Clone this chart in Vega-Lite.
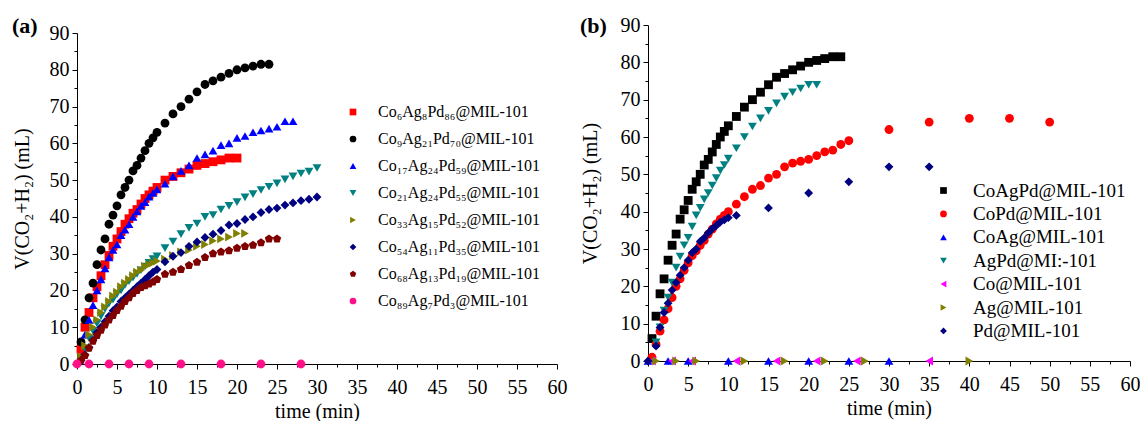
{
  "$schema": "https://vega.github.io/schema/vega-lite/v6.json",
  "background": "white",
  "padding": {"left": 12, "top": 15, "right": 0, "bottom": 0},
  "spacing": 13,
  "resolve": {"scale": {"color": "independent", "shape": "independent"}, "legend": {"color": "independent", "shape": "independent"}},
  "config": {
    "font": "Liberation Serif",
    "view": {"stroke": null},
    "axis": {"grid": false, "domainColor": "black", "tickColor": "black", "labelColor": "black", "titleColor": "black", "labelFontSize": 20, "titleFontSize": 20, "titleFontWeight": "normal", "labelFontWeight": "normal", "tickSize": 5, "domainWidth": 1, "tickWidth": 1, "labelFont": "Liberation Serif", "titleFont": "Liberation Serif", "labelFlush": false},
    "legend": {"labelFont": "Liberation Serif", "labelColor": "black", "labelFontSize": 16, "labelLimit": 400, "padding": 0, "symbolStrokeWidth": 0, "title": null},
    "title": {"font": "Liberation Serif", "fontSize": 22, "fontWeight": "bold", "color": "black"}
  },
  "datasets": {
    "a": [
      {"s":"Co₆Ag₈Pd₈₆@MIL-101","t":0.5,"v":4},{"s":"Co₆Ag₈Pd₈₆@MIL-101","t":1,"v":10},{"s":"Co₆Ag₈Pd₈₆@MIL-101","t":1.5,"v":14},{"s":"Co₆Ag₈Pd₈₆@MIL-101","t":2,"v":18},{"s":"Co₆Ag₈Pd₈₆@MIL-101","t":2.5,"v":21},{"s":"Co₆Ag₈Pd₈₆@MIL-101","t":3,"v":24},{"s":"Co₆Ag₈Pd₈₆@MIL-101","t":3.5,"v":27},{"s":"Co₆Ag₈Pd₈₆@MIL-101","t":4,"v":29.5},{"s":"Co₆Ag₈Pd₈₆@MIL-101","t":4.5,"v":32},{"s":"Co₆Ag₈Pd₈₆@MIL-101","t":5,"v":34},{"s":"Co₆Ag₈Pd₈₆@MIL-101","t":5.5,"v":36},{"s":"Co₆Ag₈Pd₈₆@MIL-101","t":6,"v":38},{"s":"Co₆Ag₈Pd₈₆@MIL-101","t":6.5,"v":39.5},{"s":"Co₆Ag₈Pd₈₆@MIL-101","t":7,"v":41},{"s":"Co₆Ag₈Pd₈₆@MIL-101","t":7.5,"v":42},{"s":"Co₆Ag₈Pd₈₆@MIL-101","t":8,"v":43.5},{"s":"Co₆Ag₈Pd₈₆@MIL-101","t":8.5,"v":45},{"s":"Co₆Ag₈Pd₈₆@MIL-101","t":9,"v":46},{"s":"Co₆Ag₈Pd₈₆@MIL-101","t":9.5,"v":47},{"s":"Co₆Ag₈Pd₈₆@MIL-101","t":10,"v":48},{"s":"Co₆Ag₈Pd₈₆@MIL-101","t":11,"v":50},{"s":"Co₆Ag₈Pd₈₆@MIL-101","t":12,"v":51},{"s":"Co₆Ag₈Pd₈₆@MIL-101","t":13,"v":52},{"s":"Co₆Ag₈Pd₈₆@MIL-101","t":14,"v":53},{"s":"Co₆Ag₈Pd₈₆@MIL-101","t":15,"v":54},{"s":"Co₆Ag₈Pd₈₆@MIL-101","t":16,"v":54.5},{"s":"Co₆Ag₈Pd₈₆@MIL-101","t":17,"v":55},{"s":"Co₆Ag₈Pd₈₆@MIL-101","t":18,"v":55.5},{"s":"Co₆Ag₈Pd₈₆@MIL-101","t":19,"v":56},{"s":"Co₆Ag₈Pd₈₆@MIL-101","t":20,"v":56},
      {"s":"Co₉Ag₂₁Pd₇₀@MIL-101","t":0.5,"v":6},{"s":"Co₉Ag₂₁Pd₇₀@MIL-101","t":1,"v":12},{"s":"Co₉Ag₂₁Pd₇₀@MIL-101","t":1.5,"v":18},{"s":"Co₉Ag₂₁Pd₇₀@MIL-101","t":2,"v":22},{"s":"Co₉Ag₂₁Pd₇₀@MIL-101","t":2.5,"v":27},{"s":"Co₉Ag₂₁Pd₇₀@MIL-101","t":3,"v":31},{"s":"Co₉Ag₂₁Pd₇₀@MIL-101","t":3.5,"v":34},{"s":"Co₉Ag₂₁Pd₇₀@MIL-101","t":4,"v":38},{"s":"Co₉Ag₂₁Pd₇₀@MIL-101","t":4.5,"v":40.5},{"s":"Co₉Ag₂₁Pd₇₀@MIL-101","t":5,"v":43},{"s":"Co₉Ag₂₁Pd₇₀@MIL-101","t":5.5,"v":46},{"s":"Co₉Ag₂₁Pd₇₀@MIL-101","t":6,"v":48},{"s":"Co₉Ag₂₁Pd₇₀@MIL-101","t":6.5,"v":50},{"s":"Co₉Ag₂₁Pd₇₀@MIL-101","t":7,"v":52.5},{"s":"Co₉Ag₂₁Pd₇₀@MIL-101","t":7.5,"v":54},{"s":"Co₉Ag₂₁Pd₇₀@MIL-101","t":8,"v":56},{"s":"Co₉Ag₂₁Pd₇₀@MIL-101","t":8.5,"v":58},{"s":"Co₉Ag₂₁Pd₇₀@MIL-101","t":9,"v":60},{"s":"Co₉Ag₂₁Pd₇₀@MIL-101","t":9.5,"v":61.5},{"s":"Co₉Ag₂₁Pd₇₀@MIL-101","t":10,"v":63},{"s":"Co₉Ag₂₁Pd₇₀@MIL-101","t":11,"v":65.5},{"s":"Co₉Ag₂₁Pd₇₀@MIL-101","t":12,"v":68},{"s":"Co₉Ag₂₁Pd₇₀@MIL-101","t":13,"v":70},{"s":"Co₉Ag₂₁Pd₇₀@MIL-101","t":14,"v":72},{"s":"Co₉Ag₂₁Pd₇₀@MIL-101","t":15,"v":74},{"s":"Co₉Ag₂₁Pd₇₀@MIL-101","t":16,"v":76},{"s":"Co₉Ag₂₁Pd₇₀@MIL-101","t":17,"v":77},{"s":"Co₉Ag₂₁Pd₇₀@MIL-101","t":18,"v":78},{"s":"Co₉Ag₂₁Pd₇₀@MIL-101","t":19,"v":79},{"s":"Co₉Ag₂₁Pd₇₀@MIL-101","t":20,"v":80},{"s":"Co₉Ag₂₁Pd₇₀@MIL-101","t":21,"v":80.5},{"s":"Co₉Ag₂₁Pd₇₀@MIL-101","t":22,"v":81},{"s":"Co₉Ag₂₁Pd₇₀@MIL-101","t":23,"v":81.5},{"s":"Co₉Ag₂₁Pd₇₀@MIL-101","t":24,"v":81.5},
      {"s":"Co₁₇Ag₂₄Pd₅₉@MIL-101","t":0.5,"v":2},{"s":"Co₁₇Ag₂₄Pd₅₉@MIL-101","t":1,"v":8},{"s":"Co₁₇Ag₂₄Pd₅₉@MIL-101","t":1.5,"v":12},{"s":"Co₁₇Ag₂₄Pd₅₉@MIL-101","t":2,"v":16},{"s":"Co₁₇Ag₂₄Pd₅₉@MIL-101","t":2.5,"v":20},{"s":"Co₁₇Ag₂₄Pd₅₉@MIL-101","t":3,"v":23},{"s":"Co₁₇Ag₂₄Pd₅₉@MIL-101","t":3.5,"v":26},{"s":"Co₁₇Ag₂₄Pd₅₉@MIL-101","t":4,"v":29},{"s":"Co₁₇Ag₂₄Pd₅₉@MIL-101","t":4.5,"v":31},{"s":"Co₁₇Ag₂₄Pd₅₉@MIL-101","t":5,"v":32.5},{"s":"Co₁₇Ag₂₄Pd₅₉@MIL-101","t":5.5,"v":35},{"s":"Co₁₇Ag₂₄Pd₅₉@MIL-101","t":6,"v":36.5},{"s":"Co₁₇Ag₂₄Pd₅₉@MIL-101","t":6.5,"v":38},{"s":"Co₁₇Ag₂₄Pd₅₉@MIL-101","t":7,"v":40},{"s":"Co₁₇Ag₂₄Pd₅₉@MIL-101","t":7.5,"v":41.5},{"s":"Co₁₇Ag₂₄Pd₅₉@MIL-101","t":8,"v":43},{"s":"Co₁₇Ag₂₄Pd₅₉@MIL-101","t":8.5,"v":44},{"s":"Co₁₇Ag₂₄Pd₅₉@MIL-101","t":9,"v":45.5},{"s":"Co₁₇Ag₂₄Pd₅₉@MIL-101","t":9.5,"v":46.5},{"s":"Co₁₇Ag₂₄Pd₅₉@MIL-101","t":10,"v":47.5},{"s":"Co₁₇Ag₂₄Pd₅₉@MIL-101","t":11,"v":49},{"s":"Co₁₇Ag₂₄Pd₅₉@MIL-101","t":12,"v":51},{"s":"Co₁₇Ag₂₄Pd₅₉@MIL-101","t":13,"v":52.5},{"s":"Co₁₇Ag₂₄Pd₅₉@MIL-101","t":14,"v":54},{"s":"Co₁₇Ag₂₄Pd₅₉@MIL-101","t":15,"v":56},{"s":"Co₁₇Ag₂₄Pd₅₉@MIL-101","t":16,"v":57},{"s":"Co₁₇Ag₂₄Pd₅₉@MIL-101","t":17,"v":58},{"s":"Co₁₇Ag₂₄Pd₅₉@MIL-101","t":18,"v":59.5},{"s":"Co₁₇Ag₂₄Pd₅₉@MIL-101","t":19,"v":60},{"s":"Co₁₇Ag₂₄Pd₅₉@MIL-101","t":20,"v":61.5},{"s":"Co₁₇Ag₂₄Pd₅₉@MIL-101","t":21,"v":62},{"s":"Co₁₇Ag₂₄Pd₅₉@MIL-101","t":22,"v":63},{"s":"Co₁₇Ag₂₄Pd₅₉@MIL-101","t":23,"v":63.5},{"s":"Co₁₇Ag₂₄Pd₅₉@MIL-101","t":24,"v":64},{"s":"Co₁₇Ag₂₄Pd₅₉@MIL-101","t":25,"v":64.5},{"s":"Co₁₇Ag₂₄Pd₅₉@MIL-101","t":26,"v":66},{"s":"Co₁₇Ag₂₄Pd₅₉@MIL-101","t":27,"v":66},
      {"s":"Co₂₁Ag₂₄Pd₅₅@MIL-101","t":0.5,"v":0.5},{"s":"Co₂₁Ag₂₄Pd₅₅@MIL-101","t":1,"v":4},{"s":"Co₂₁Ag₂₄Pd₅₅@MIL-101","t":1.5,"v":7},{"s":"Co₂₁Ag₂₄Pd₅₅@MIL-101","t":2,"v":9},{"s":"Co₂₁Ag₂₄Pd₅₅@MIL-101","t":2.5,"v":11},{"s":"Co₂₁Ag₂₄Pd₅₅@MIL-101","t":3,"v":13},{"s":"Co₂₁Ag₂₄Pd₅₅@MIL-101","t":3.5,"v":15},{"s":"Co₂₁Ag₂₄Pd₅₅@MIL-101","t":4,"v":16.5},{"s":"Co₂₁Ag₂₄Pd₅₅@MIL-101","t":4.5,"v":17.5},{"s":"Co₂₁Ag₂₄Pd₅₅@MIL-101","t":5,"v":19},{"s":"Co₂₁Ag₂₄Pd₅₅@MIL-101","t":5.5,"v":20},{"s":"Co₂₁Ag₂₄Pd₅₅@MIL-101","t":6,"v":21.5},{"s":"Co₂₁Ag₂₄Pd₅₅@MIL-101","t":6.5,"v":22.5},{"s":"Co₂₁Ag₂₄Pd₅₅@MIL-101","t":7,"v":23.5},{"s":"Co₂₁Ag₂₄Pd₅₅@MIL-101","t":7.5,"v":24.5},{"s":"Co₂₁Ag₂₄Pd₅₅@MIL-101","t":8,"v":25.5},{"s":"Co₂₁Ag₂₄Pd₅₅@MIL-101","t":8.5,"v":26.5},{"s":"Co₂₁Ag₂₄Pd₅₅@MIL-101","t":9,"v":27.5},{"s":"Co₂₁Ag₂₄Pd₅₅@MIL-101","t":9.5,"v":28.5},{"s":"Co₂₁Ag₂₄Pd₅₅@MIL-101","t":10,"v":29.3},{"s":"Co₂₁Ag₂₄Pd₅₅@MIL-101","t":11,"v":31.5},{"s":"Co₂₁Ag₂₄Pd₅₅@MIL-101","t":12,"v":33.3},{"s":"Co₂₁Ag₂₄Pd₅₅@MIL-101","t":13,"v":35.3},{"s":"Co₂₁Ag₂₄Pd₅₅@MIL-101","t":14,"v":37},{"s":"Co₂₁Ag₂₄Pd₅₅@MIL-101","t":15,"v":38.2},{"s":"Co₂₁Ag₂₄Pd₅₅@MIL-101","t":16,"v":40},{"s":"Co₂₁Ag₂₄Pd₅₅@MIL-101","t":17,"v":40.5},{"s":"Co₂₁Ag₂₄Pd₅₅@MIL-101","t":18,"v":42},{"s":"Co₂₁Ag₂₄Pd₅₅@MIL-101","t":19,"v":43},{"s":"Co₂₁Ag₂₄Pd₅₅@MIL-101","t":20,"v":44},{"s":"Co₂₁Ag₂₄Pd₅₅@MIL-101","t":21,"v":45.3},{"s":"Co₂₁Ag₂₄Pd₅₅@MIL-101","t":22,"v":46.2},{"s":"Co₂₁Ag₂₄Pd₅₅@MIL-101","t":23,"v":47.3},{"s":"Co₂₁Ag₂₄Pd₅₅@MIL-101","t":24,"v":48.2},{"s":"Co₂₁Ag₂₄Pd₅₅@MIL-101","t":25,"v":49.1},{"s":"Co₂₁Ag₂₄Pd₅₅@MIL-101","t":26,"v":50.2},{"s":"Co₂₁Ag₂₄Pd₅₅@MIL-101","t":27,"v":51},{"s":"Co₂₁Ag₂₄Pd₅₅@MIL-101","t":28,"v":51.8},{"s":"Co₂₁Ag₂₄Pd₅₅@MIL-101","t":29,"v":52.3},{"s":"Co₂₁Ag₂₄Pd₅₅@MIL-101","t":30,"v":53.3},
      {"s":"Co₃₃Ag₁₅Pd₅₂@MIL-101","t":0.5,"v":2},{"s":"Co₃₃Ag₁₅Pd₅₂@MIL-101","t":1,"v":5},{"s":"Co₃₃Ag₁₅Pd₅₂@MIL-101","t":1.5,"v":8},{"s":"Co₃₃Ag₁₅Pd₅₂@MIL-101","t":2,"v":10},{"s":"Co₃₃Ag₁₅Pd₅₂@MIL-101","t":2.5,"v":12},{"s":"Co₃₃Ag₁₅Pd₅₂@MIL-101","t":3,"v":14},{"s":"Co₃₃Ag₁₅Pd₅₂@MIL-101","t":3.5,"v":15.5},{"s":"Co₃₃Ag₁₅Pd₅₂@MIL-101","t":4,"v":17},{"s":"Co₃₃Ag₁₅Pd₅₂@MIL-101","t":4.5,"v":18.5},{"s":"Co₃₃Ag₁₅Pd₅₂@MIL-101","t":5,"v":19.5},{"s":"Co₃₃Ag₁₅Pd₅₂@MIL-101","t":5.5,"v":21},{"s":"Co₃₃Ag₁₅Pd₅₂@MIL-101","t":6,"v":22},{"s":"Co₃₃Ag₁₅Pd₅₂@MIL-101","t":6.5,"v":23},{"s":"Co₃₃Ag₁₅Pd₅₂@MIL-101","t":7,"v":24},{"s":"Co₃₃Ag₁₅Pd₅₂@MIL-101","t":7.5,"v":25},{"s":"Co₃₃Ag₁₅Pd₅₂@MIL-101","t":8,"v":25.5},{"s":"Co₃₃Ag₁₅Pd₅₂@MIL-101","t":8.5,"v":26.5},{"s":"Co₃₃Ag₁₅Pd₅₂@MIL-101","t":9,"v":27},{"s":"Co₃₃Ag₁₅Pd₅₂@MIL-101","t":9.5,"v":27.5},{"s":"Co₃₃Ag₁₅Pd₅₂@MIL-101","t":10,"v":28},{"s":"Co₃₃Ag₁₅Pd₅₂@MIL-101","t":11,"v":28.5},{"s":"Co₃₃Ag₁₅Pd₅₂@MIL-101","t":12,"v":29.5},{"s":"Co₃₃Ag₁₅Pd₅₂@MIL-101","t":13,"v":30.5},{"s":"Co₃₃Ag₁₅Pd₅₂@MIL-101","t":14,"v":31},{"s":"Co₃₃Ag₁₅Pd₅₂@MIL-101","t":15,"v":32},{"s":"Co₃₃Ag₁₅Pd₅₂@MIL-101","t":16,"v":32.5},{"s":"Co₃₃Ag₁₅Pd₅₂@MIL-101","t":17,"v":33.5},{"s":"Co₃₃Ag₁₅Pd₅₂@MIL-101","t":18,"v":34},{"s":"Co₃₃Ag₁₅Pd₅₂@MIL-101","t":19,"v":34.5},{"s":"Co₃₃Ag₁₅Pd₅₂@MIL-101","t":20,"v":35.5},{"s":"Co₃₃Ag₁₅Pd₅₂@MIL-101","t":21,"v":35.5},
      {"s":"Co₅₄Ag₁₁Pd₃₅@MIL-101","t":0.5,"v":1},{"s":"Co₅₄Ag₁₁Pd₃₅@MIL-101","t":1,"v":2.5},{"s":"Co₅₄Ag₁₁Pd₃₅@MIL-101","t":1.5,"v":4.5},{"s":"Co₅₄Ag₁₁Pd₃₅@MIL-101","t":2,"v":6.5},{"s":"Co₅₄Ag₁₁Pd₃₅@MIL-101","t":2.5,"v":8.5},{"s":"Co₅₄Ag₁₁Pd₃₅@MIL-101","t":3,"v":10},{"s":"Co₅₄Ag₁₁Pd₃₅@MIL-101","t":3.5,"v":11.5},{"s":"Co₅₄Ag₁₁Pd₃₅@MIL-101","t":4,"v":13},{"s":"Co₅₄Ag₁₁Pd₃₅@MIL-101","t":4.5,"v":14.5},{"s":"Co₅₄Ag₁₁Pd₃₅@MIL-101","t":5,"v":15.5},{"s":"Co₅₄Ag₁₁Pd₃₅@MIL-101","t":5.5,"v":17},{"s":"Co₅₄Ag₁₁Pd₃₅@MIL-101","t":6,"v":18},{"s":"Co₅₄Ag₁₁Pd₃₅@MIL-101","t":6.5,"v":19},{"s":"Co₅₄Ag₁₁Pd₃₅@MIL-101","t":7,"v":20},{"s":"Co₅₄Ag₁₁Pd₃₅@MIL-101","t":7.5,"v":21},{"s":"Co₅₄Ag₁₁Pd₃₅@MIL-101","t":8,"v":22},{"s":"Co₅₄Ag₁₁Pd₃₅@MIL-101","t":8.5,"v":23},{"s":"Co₅₄Ag₁₁Pd₃₅@MIL-101","t":9,"v":24},{"s":"Co₅₄Ag₁₁Pd₃₅@MIL-101","t":9.5,"v":25},{"s":"Co₅₄Ag₁₁Pd₃₅@MIL-101","t":10,"v":25.7},{"s":"Co₅₄Ag₁₁Pd₃₅@MIL-101","t":11,"v":27.8},{"s":"Co₅₄Ag₁₁Pd₃₅@MIL-101","t":12,"v":29.3},{"s":"Co₅₄Ag₁₁Pd₃₅@MIL-101","t":13,"v":30.3},{"s":"Co₅₄Ag₁₁Pd₃₅@MIL-101","t":14,"v":32},{"s":"Co₅₄Ag₁₁Pd₃₅@MIL-101","t":15,"v":33.2},{"s":"Co₅₄Ag₁₁Pd₃₅@MIL-101","t":16,"v":34.4},{"s":"Co₅₄Ag₁₁Pd₃₅@MIL-101","t":17,"v":35.3},{"s":"Co₅₄Ag₁₁Pd₃₅@MIL-101","t":18,"v":36.3},{"s":"Co₅₄Ag₁₁Pd₃₅@MIL-101","t":19,"v":37.8},{"s":"Co₅₄Ag₁₁Pd₃₅@MIL-101","t":20,"v":38.2},{"s":"Co₅₄Ag₁₁Pd₃₅@MIL-101","t":21,"v":39.3},{"s":"Co₅₄Ag₁₁Pd₃₅@MIL-101","t":22,"v":40},{"s":"Co₅₄Ag₁₁Pd₃₅@MIL-101","t":23,"v":41.2},{"s":"Co₅₄Ag₁₁Pd₃₅@MIL-101","t":24,"v":42},{"s":"Co₅₄Ag₁₁Pd₃₅@MIL-101","t":25,"v":42.4},{"s":"Co₅₄Ag₁₁Pd₃₅@MIL-101","t":26,"v":43.2},{"s":"Co₅₄Ag₁₁Pd₃₅@MIL-101","t":27,"v":43.8},{"s":"Co₅₄Ag₁₁Pd₃₅@MIL-101","t":28,"v":44.4},{"s":"Co₅₄Ag₁₁Pd₃₅@MIL-101","t":29,"v":44.8},{"s":"Co₅₄Ag₁₁Pd₃₅@MIL-101","t":30,"v":45.4},
      {"s":"Co₆₈Ag₁₃Pd₁₉@MIL-101","t":0.5,"v":1},{"s":"Co₆₈Ag₁₃Pd₁₉@MIL-101","t":1,"v":2.3},{"s":"Co₆₈Ag₁₃Pd₁₉@MIL-101","t":1.5,"v":4.3},{"s":"Co₆₈Ag₁₃Pd₁₉@MIL-101","t":2,"v":6.2},{"s":"Co₆₈Ag₁₃Pd₁₉@MIL-101","t":2.5,"v":7.8},{"s":"Co₆₈Ag₁₃Pd₁₉@MIL-101","t":3,"v":9.2},{"s":"Co₆₈Ag₁₃Pd₁₉@MIL-101","t":3.5,"v":10.6},{"s":"Co₆₈Ag₁₃Pd₁₉@MIL-101","t":4,"v":12},{"s":"Co₆₈Ag₁₃Pd₁₉@MIL-101","t":4.5,"v":13.2},{"s":"Co₆₈Ag₁₃Pd₁₉@MIL-101","t":5,"v":14.6},{"s":"Co₆₈Ag₁₃Pd₁₉@MIL-101","t":5.5,"v":15.7},{"s":"Co₆₈Ag₁₃Pd₁₉@MIL-101","t":6,"v":17},{"s":"Co₆₈Ag₁₃Pd₁₉@MIL-101","t":6.5,"v":18},{"s":"Co₆₈Ag₁₃Pd₁₉@MIL-101","t":7,"v":19.2},{"s":"Co₆₈Ag₁₃Pd₁₉@MIL-101","t":7.5,"v":20},{"s":"Co₆₈Ag₁₃Pd₁₉@MIL-101","t":8,"v":20.8},{"s":"Co₆₈Ag₁₃Pd₁₉@MIL-101","t":8.5,"v":21.3},{"s":"Co₆₈Ag₁₃Pd₁₉@MIL-101","t":9,"v":21.8},{"s":"Co₆₈Ag₁₃Pd₁₉@MIL-101","t":9.5,"v":22.3},{"s":"Co₆₈Ag₁₃Pd₁₉@MIL-101","t":10,"v":23},{"s":"Co₆₈Ag₁₃Pd₁₉@MIL-101","t":11,"v":24.4},{"s":"Co₆₈Ag₁₃Pd₁₉@MIL-101","t":12,"v":25},{"s":"Co₆₈Ag₁₃Pd₁₉@MIL-101","t":13,"v":25.7},{"s":"Co₆₈Ag₁₃Pd₁₉@MIL-101","t":14,"v":26.8},{"s":"Co₆₈Ag₁₃Pd₁₉@MIL-101","t":15,"v":27.7},{"s":"Co₆₈Ag₁₃Pd₁₉@MIL-101","t":16,"v":29},{"s":"Co₆₈Ag₁₃Pd₁₉@MIL-101","t":17,"v":30},{"s":"Co₆₈Ag₁₃Pd₁₉@MIL-101","t":18,"v":30.5},{"s":"Co₆₈Ag₁₃Pd₁₉@MIL-101","t":19,"v":30.8},{"s":"Co₆₈Ag₁₃Pd₁₉@MIL-101","t":20,"v":31.5},{"s":"Co₆₈Ag₁₃Pd₁₉@MIL-101","t":21,"v":32},{"s":"Co₆₈Ag₁₃Pd₁₉@MIL-101","t":22,"v":32.3},{"s":"Co₆₈Ag₁₃Pd₁₉@MIL-101","t":23,"v":33},{"s":"Co₆₈Ag₁₃Pd₁₉@MIL-101","t":24,"v":34},{"s":"Co₆₈Ag₁₃Pd₁₉@MIL-101","t":25,"v":34},
      {"s":"Co₈₉Ag₇Pd₃@MIL-101","t":0,"v":0},{"s":"Co₈₉Ag₇Pd₃@MIL-101","t":1.5,"v":0},{"s":"Co₈₉Ag₇Pd₃@MIL-101","t":4,"v":0},{"s":"Co₈₉Ag₇Pd₃@MIL-101","t":6.5,"v":0},{"s":"Co₈₉Ag₇Pd₃@MIL-101","t":9,"v":0},{"s":"Co₈₉Ag₇Pd₃@MIL-101","t":13,"v":0},{"s":"Co₈₉Ag₇Pd₃@MIL-101","t":18,"v":0},{"s":"Co₈₉Ag₇Pd₃@MIL-101","t":23,"v":0},{"s":"Co₈₉Ag₇Pd₃@MIL-101","t":28,"v":0}
    ],
    "b": [
      {"s":"CoAgPd@MIL-101","t":0.5,"v":6},{"s":"CoAgPd@MIL-101","t":1,"v":12},{"s":"CoAgPd@MIL-101","t":1.5,"v":18},{"s":"CoAgPd@MIL-101","t":2,"v":22},{"s":"CoAgPd@MIL-101","t":2.5,"v":27},{"s":"CoAgPd@MIL-101","t":3,"v":31},{"s":"CoAgPd@MIL-101","t":3.5,"v":34},{"s":"CoAgPd@MIL-101","t":4,"v":38},{"s":"CoAgPd@MIL-101","t":4.5,"v":40.5},{"s":"CoAgPd@MIL-101","t":5,"v":43},{"s":"CoAgPd@MIL-101","t":5.5,"v":46},{"s":"CoAgPd@MIL-101","t":6,"v":48},{"s":"CoAgPd@MIL-101","t":6.5,"v":50},{"s":"CoAgPd@MIL-101","t":7,"v":52.5},{"s":"CoAgPd@MIL-101","t":7.5,"v":54},{"s":"CoAgPd@MIL-101","t":8,"v":56},{"s":"CoAgPd@MIL-101","t":8.5,"v":58},{"s":"CoAgPd@MIL-101","t":9,"v":60},{"s":"CoAgPd@MIL-101","t":9.5,"v":61.5},{"s":"CoAgPd@MIL-101","t":10,"v":63},{"s":"CoAgPd@MIL-101","t":11,"v":65.5},{"s":"CoAgPd@MIL-101","t":12,"v":68},{"s":"CoAgPd@MIL-101","t":13,"v":70},{"s":"CoAgPd@MIL-101","t":14,"v":72},{"s":"CoAgPd@MIL-101","t":15,"v":74},{"s":"CoAgPd@MIL-101","t":16,"v":76},{"s":"CoAgPd@MIL-101","t":17,"v":77},{"s":"CoAgPd@MIL-101","t":18,"v":78},{"s":"CoAgPd@MIL-101","t":19,"v":79},{"s":"CoAgPd@MIL-101","t":20,"v":80},{"s":"CoAgPd@MIL-101","t":21,"v":80.5},{"s":"CoAgPd@MIL-101","t":22,"v":81},{"s":"CoAgPd@MIL-101","t":23,"v":81.5},{"s":"CoAgPd@MIL-101","t":24,"v":81.5},
      {"s":"CoPd@MIL-101","t":0.5,"v":1},{"s":"CoPd@MIL-101","t":1,"v":4.5},{"s":"CoPd@MIL-101","t":1.5,"v":8},{"s":"CoPd@MIL-101","t":2,"v":11},{"s":"CoPd@MIL-101","t":2.5,"v":14},{"s":"CoPd@MIL-101","t":3,"v":17},{"s":"CoPd@MIL-101","t":3.5,"v":20},{"s":"CoPd@MIL-101","t":4,"v":22},{"s":"CoPd@MIL-101","t":4.5,"v":24.3},{"s":"CoPd@MIL-101","t":5,"v":26.3},{"s":"CoPd@MIL-101","t":5.5,"v":28.2},{"s":"CoPd@MIL-101","t":6,"v":29.5},{"s":"CoPd@MIL-101","t":6.5,"v":31},{"s":"CoPd@MIL-101","t":7,"v":32.3},{"s":"CoPd@MIL-101","t":7.5,"v":34},{"s":"CoPd@MIL-101","t":8,"v":35.3},{"s":"CoPd@MIL-101","t":8.5,"v":36.7},{"s":"CoPd@MIL-101","t":9,"v":38},{"s":"CoPd@MIL-101","t":9.5,"v":39},{"s":"CoPd@MIL-101","t":10,"v":40},{"s":"CoPd@MIL-101","t":11,"v":42},{"s":"CoPd@MIL-101","t":12,"v":44},{"s":"CoPd@MIL-101","t":13,"v":46},{"s":"CoPd@MIL-101","t":14,"v":47},{"s":"CoPd@MIL-101","t":15,"v":49},{"s":"CoPd@MIL-101","t":16,"v":50},{"s":"CoPd@MIL-101","t":17,"v":52},{"s":"CoPd@MIL-101","t":18,"v":53},{"s":"CoPd@MIL-101","t":19,"v":53.5},{"s":"CoPd@MIL-101","t":20,"v":54},{"s":"CoPd@MIL-101","t":21,"v":55},{"s":"CoPd@MIL-101","t":22,"v":56},{"s":"CoPd@MIL-101","t":23,"v":56.5},{"s":"CoPd@MIL-101","t":24,"v":58},{"s":"CoPd@MIL-101","t":25,"v":59},{"s":"CoPd@MIL-101","t":30,"v":62},{"s":"CoPd@MIL-101","t":35,"v":64},{"s":"CoPd@MIL-101","t":40,"v":65},{"s":"CoPd@MIL-101","t":45,"v":65},{"s":"CoPd@MIL-101","t":50,"v":64},
      {"s":"CoAg@MIL-101","t":0,"v":0},{"s":"CoAg@MIL-101","t":2.5,"v":0},{"s":"CoAg@MIL-101","t":5,"v":0},{"s":"CoAg@MIL-101","t":10,"v":0},{"s":"CoAg@MIL-101","t":15,"v":0},{"s":"CoAg@MIL-101","t":20,"v":0},{"s":"CoAg@MIL-101","t":25,"v":0},{"s":"CoAg@MIL-101","t":30,"v":0},
      {"s":"AgPd@MI:-101","t":1,"v":5},{"s":"AgPd@MI:-101","t":1.5,"v":9},{"s":"AgPd@MI:-101","t":2,"v":13.5},{"s":"AgPd@MI:-101","t":2.5,"v":17},{"s":"AgPd@MI:-101","t":3,"v":21},{"s":"AgPd@MI:-101","t":3.5,"v":25},{"s":"AgPd@MI:-101","t":4,"v":28},{"s":"AgPd@MI:-101","t":4.5,"v":31},{"s":"AgPd@MI:-101","t":5,"v":33},{"s":"AgPd@MI:-101","t":5.5,"v":36},{"s":"AgPd@MI:-101","t":6,"v":39},{"s":"AgPd@MI:-101","t":6.5,"v":41},{"s":"AgPd@MI:-101","t":7,"v":43.3},{"s":"AgPd@MI:-101","t":7.5,"v":45},{"s":"AgPd@MI:-101","t":8,"v":47},{"s":"AgPd@MI:-101","t":8.5,"v":49},{"s":"AgPd@MI:-101","t":9,"v":51},{"s":"AgPd@MI:-101","t":9.5,"v":52.5},{"s":"AgPd@MI:-101","t":10,"v":54.2},{"s":"AgPd@MI:-101","t":11,"v":57},{"s":"AgPd@MI:-101","t":12,"v":60},{"s":"AgPd@MI:-101","t":13,"v":62.8},{"s":"AgPd@MI:-101","t":14,"v":65},{"s":"AgPd@MI:-101","t":15,"v":67},{"s":"AgPd@MI:-101","t":16,"v":69},{"s":"AgPd@MI:-101","t":17,"v":70.8},{"s":"AgPd@MI:-101","t":18,"v":72},{"s":"AgPd@MI:-101","t":19,"v":73},{"s":"AgPd@MI:-101","t":20,"v":74},{"s":"AgPd@MI:-101","t":21,"v":74},
      {"s":"Co@MIL-101","t":0.5,"v":0},{"s":"Co@MIL-101","t":3,"v":0},{"s":"Co@MIL-101","t":5.5,"v":0},{"s":"Co@MIL-101","t":11,"v":0},{"s":"Co@MIL-101","t":16,"v":0},{"s":"Co@MIL-101","t":21,"v":0},{"s":"Co@MIL-101","t":26,"v":0},{"s":"Co@MIL-101","t":35,"v":0},
      {"s":"Ag@MIL-101","t":1,"v":0},{"s":"Ag@MIL-101","t":3.5,"v":0},{"s":"Ag@MIL-101","t":6,"v":0},{"s":"Ag@MIL-101","t":12,"v":0},{"s":"Ag@MIL-101","t":17,"v":0},{"s":"Ag@MIL-101","t":22,"v":0},{"s":"Ag@MIL-101","t":27,"v":0},{"s":"Ag@MIL-101","t":40,"v":0},
      {"s":"Pd@MIL-101","t":0,"v":0},{"s":"Pd@MIL-101","t":1,"v":4},{"s":"Pd@MIL-101","t":1.5,"v":9},{"s":"Pd@MIL-101","t":2,"v":13},{"s":"Pd@MIL-101","t":2.5,"v":15.5},{"s":"Pd@MIL-101","t":3,"v":19},{"s":"Pd@MIL-101","t":3.5,"v":21},{"s":"Pd@MIL-101","t":4,"v":23},{"s":"Pd@MIL-101","t":4.5,"v":25},{"s":"Pd@MIL-101","t":5,"v":27},{"s":"Pd@MIL-101","t":5.5,"v":29},{"s":"Pd@MIL-101","t":6,"v":30},{"s":"Pd@MIL-101","t":6.5,"v":32},{"s":"Pd@MIL-101","t":7,"v":33},{"s":"Pd@MIL-101","t":7.5,"v":34.3},{"s":"Pd@MIL-101","t":8,"v":35.4},{"s":"Pd@MIL-101","t":8.5,"v":36.3},{"s":"Pd@MIL-101","t":9,"v":37.2},{"s":"Pd@MIL-101","t":9.5,"v":37.8},{"s":"Pd@MIL-101","t":10,"v":38.4},{"s":"Pd@MIL-101","t":11,"v":39},{"s":"Pd@MIL-101","t":15,"v":41},{"s":"Pd@MIL-101","t":20,"v":45},{"s":"Pd@MIL-101","t":25,"v":48},{"s":"Pd@MIL-101","t":30,"v":52},{"s":"Pd@MIL-101","t":35,"v":52}
    ]
  },
  "hconcat": [
    {
      "width": 480, "height": 339,
      "title": {"text": "(a)", "anchor": "start", "frame": "bounds", "orient": "top", "offset": -15},
      "data": {"name": "a"},
      "layer": [
        {
          "mark": {"type": "point", "filled": true, "opacity": 1, "size": 78, "strokeWidth": 0},
          "encoding": {
            "x": {"field": "t", "type": "quantitative", "scale": {"domain": [0, 60], "nice": false}, "axis": {"values": [0,5,10,15,20,25,30,35,40,45,50,55,60], "labelPadding": 8, "titlePadding": 4, "labelFlush": false, "labelFont": "Liberation Serif", "titleFont": "Liberation Serif", "titleFontWeight": "normal"}, "title": "time (min)"},
            "y": {"field": "v", "type": "quantitative", "scale": {"domain": [0, 90], "nice": false, "range": [339, 8]}, "axis": {"values": [0,10,20,30,40,50,60,70,80,90], "labelPadding": 3, "titlePadding": 17, "labelFlush": false, "labelFont": "Liberation Serif", "titleFont": "Liberation Serif", "titleFontWeight": "normal"}, "title": "V(CO₂+H₂) (mL)"},
            "color": {"field": "s", "type": "nominal", "scale": {"domain": ["Co₆Ag₈Pd₈₆@MIL-101","Co₉Ag₂₁Pd₇₀@MIL-101","Co₁₇Ag₂₄Pd₅₉@MIL-101","Co₂₁Ag₂₄Pd₅₅@MIL-101","Co₃₃Ag₁₅Pd₅₂@MIL-101","Co₅₄Ag₁₁Pd₃₅@MIL-101","Co₆₈Ag₁₃Pd₁₉@MIL-101","Co₈₉Ag₇Pd₃@MIL-101"], "range": ["#FF0000","#000000","#0000FF","#008080","#808000","#000080","#800000","#FF1088"]}, "legend": {"orient": "none", "legendX": 268, "legendY": 79, "rowPadding": 11, "labelOffset": 17, "symbolSize": 45}},
            "shape": {"field": "s", "type": "nominal", "scale": {"domain": ["Co₆Ag₈Pd₈₆@MIL-101","Co₉Ag₂₁Pd₇₀@MIL-101","Co₁₇Ag₂₄Pd₅₉@MIL-101","Co₂₁Ag₂₄Pd₅₅@MIL-101","Co₃₃Ag₁₅Pd₅₂@MIL-101","Co₅₄Ag₁₁Pd₃₅@MIL-101","Co₆₈Ag₁₃Pd₁₉@MIL-101","Co₈₉Ag₇Pd₃@MIL-101"], "range": ["square","circle","triangle-up","triangle-down","triangle-right","diamond","M0,-1L0.951,-0.309L0.588,0.809L-0.588,0.809L-0.951,-0.309Z","circle"]}, "legend": {"orient": "none", "legendX": 268, "legendY": 79, "rowPadding": 11, "labelOffset": 17, "symbolSize": 45}}
          }
        },
        {
          "mark": {"type": "point", "opacity": 0},
          "encoding": {
            "x": {"field": "t", "type": "quantitative", "scale": {"domain": [0, 60], "nice": false}, "axis": {"orient": "bottom", "values": [2.5,7.5,12.5,17.5,22.5,27.5,32.5,37.5,42.5,47.5,52.5,57.5], "labels": false, "domain": false, "tickSize": 3, "title": null}},
            "y": {"field": "v", "type": "quantitative", "scale": {"domain": [0, 90], "nice": false, "range": [339, 8]}, "axis": {"orient": "left", "values": [5,15,25,35,45,55,65,75,85], "labels": false, "domain": false, "tickSize": 3, "title": null}}
          }
        }
      ],
      "resolve": {"axis": {"x": "independent", "y": "independent"}}
    },
    {
      "width": 482, "height": 336,
      "title": {"text": "(b)", "anchor": "start", "frame": "bounds", "orient": "top", "offset": -23},
      "data": {"name": "b"},
      "layer": [
        {
          "mark": {"type": "point", "filled": true, "opacity": 1, "size": 78, "strokeWidth": 0},
          "encoding": {
            "x": {"field": "t", "type": "quantitative", "scale": {"domain": [0, 60], "nice": false}, "axis": {"values": [0,5,10,15,20,25,30,35,40,45,50,55,60], "labelPadding": 8, "titlePadding": 4, "labelFlush": false, "labelFont": "Liberation Serif", "titleFont": "Liberation Serif", "titleFontWeight": "normal"}, "title": "time (min)"},
            "y": {"field": "v", "type": "quantitative", "scale": {"domain": [0, 90], "nice": false}, "axis": {"values": [0,10,20,30,40,50,60,70,80,90], "labelPadding": 3, "titlePadding": 20, "labelFlush": false, "labelFont": "Liberation Serif", "titleFont": "Liberation Serif", "titleFontWeight": "normal"}, "title": "V(CO₂+H₂) (mL)"},
            "color": {"field": "s", "type": "nominal", "scale": {"domain": ["CoAgPd@MIL-101","CoPd@MIL-101","CoAg@MIL-101","AgPd@MI:-101","Co@MIL-101","Ag@MIL-101","Pd@MIL-101"], "range": ["#000000","#FF0000","#0000FF","#008080","#FF00FF","#808000","#000080"]}, "legend": {"orient": "none", "legendX": 286, "legendY": 156, "rowPadding": 3.4, "labelOffset": 20, "symbolSize": 45, "labelFontSize": 19}},
            "shape": {"field": "s", "type": "nominal", "scale": {"domain": ["CoAgPd@MIL-101","CoPd@MIL-101","CoAg@MIL-101","AgPd@MI:-101","Co@MIL-101","Ag@MIL-101","Pd@MIL-101"], "range": ["square","circle","triangle-up","triangle-down","triangle-left","triangle-right","diamond"]}, "legend": {"orient": "none", "legendX": 286, "legendY": 156, "rowPadding": 3.4, "labelOffset": 20, "symbolSize": 45, "labelFontSize": 19}}
          }
        },
        {
          "mark": {"type": "point", "opacity": 0},
          "encoding": {
            "x": {"field": "t", "type": "quantitative", "scale": {"domain": [0, 60], "nice": false}, "axis": {"orient": "bottom", "values": [2.5,7.5,12.5,17.5,22.5,27.5,32.5,37.5,42.5,47.5,52.5,57.5], "labels": false, "domain": false, "tickSize": 3, "title": null}},
            "y": {"field": "v", "type": "quantitative", "scale": {"domain": [0, 90], "nice": false}, "axis": {"orient": "left", "values": [5,15,25,35,45,55,65,75,85], "labels": false, "domain": false, "tickSize": 3, "title": null}}
          }
        }
      ],
      "resolve": {"axis": {"x": "independent", "y": "independent"}}
    }
  ]
}
